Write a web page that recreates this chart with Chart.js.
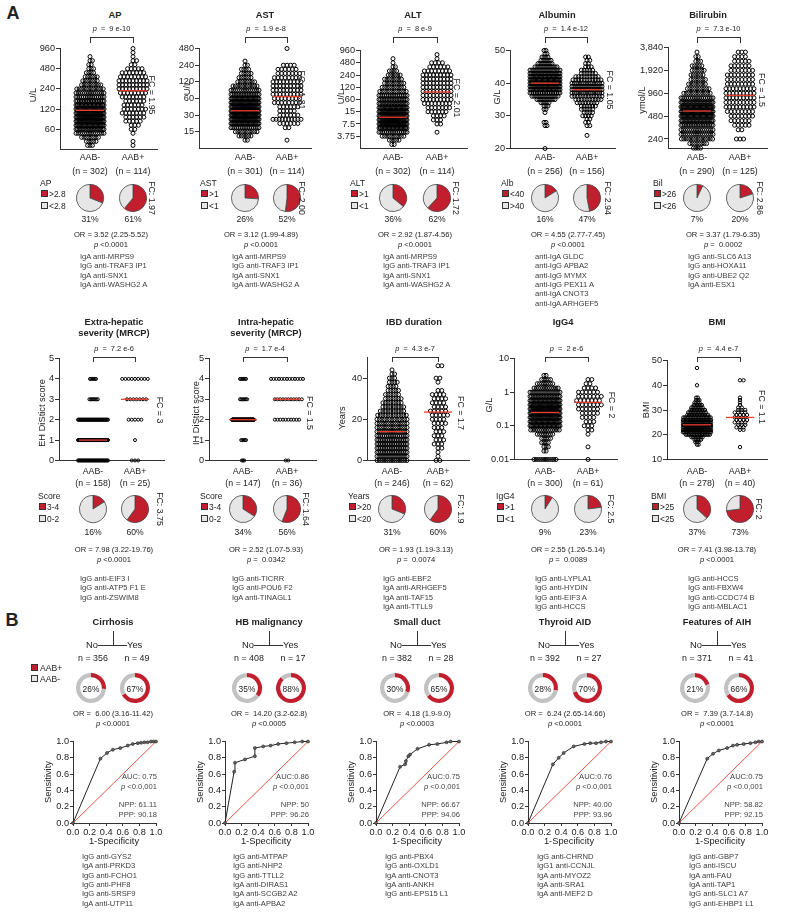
<!DOCTYPE html>
<html>
<head>
<meta charset="utf-8">
<script src="https://cdn.jsdelivr.net/npm/chart.js@4.4.0/dist/chart.umd.min.js"></script>
<style>
  body { margin: 0; background: #fff; }
  #fig { position: relative; width: 787px; height: 914px; overflow: hidden;
         font-family: "Liberation Sans", Arial, Helvetica, sans-serif; color: #222; }
  canvas { position: absolute; }
</style>
</head>
<body>
<div id="fig"></div>
<script>
// ---------- data: panel A, first row ----------
const apLevels = [34.5, 39.6, 45.5, 52.3, 60, 68.9, 79.2, 91, 104.5, 120, 137.8, 158.3, 181.9, 208.9, 240, 275.7, 316.7, 363.8, 417.9, 480, 551, 633, 727, 835, 960];
const apNeg = [3, 5, 8, 14, 20, 24, 28, 30, 28, 26, 22, 18, 16, 14, 12, 9, 7, 6, 4, 3, 2, 2, 1, 0, 0];
const apPos = [1, 1, 0, 1, 2, 3, 5, 6, 7, 7, 6, 6, 7, 8, 9, 9, 9, 8, 7, 5, 2, 2, 1, 1, 1];
const apMed = [115, 225];
const apTicks = [60, 120, 240, 480, 960];

const astLevels = [8.9, 10.6, 12.6, 15, 17.8, 21.2, 25.2, 30, 35.7, 42.4, 50.5, 60, 71.4, 84.9, 101, 120, 143, 170, 202, 240, 285, 339, 404, 480];
const astNeg = [0, 2, 6, 10, 16, 24, 30, 32, 32, 30, 26, 24, 18, 14, 11, 8, 6, 5, 4, 2, 1, 0, 0, 0];
const astPos = [0, 1, 0, 0, 2, 6, 10, 6, 5, 6, 8, 8, 9, 9, 9, 9, 8, 7, 6, 4, 0, 0, 0, 1];
const astMed = [36, 65];
const astTicks = [15, 30, 60, 120, 240, 480];

const altLevels = [4.7, 6.0, 7.5, 9.4, 11.9, 15, 18.9, 23.8, 30, 37.8, 47.6, 60, 75.6, 95, 120, 151, 190, 240, 302, 381, 480, 605, 762, 960];
const altNeg = [2, 5, 10, 16, 22, 28, 30, 30, 28, 24, 20, 18, 16, 12, 10, 9, 8, 6, 4, 2, 1, 1, 0, 0];
const altPos = [0, 0, 0, 1, 0, 2, 3, 4, 6, 7, 8, 9, 9, 9, 9, 9, 9, 9, 8, 6, 4, 1, 1, 0];
const altMed = [22, 92];
const altTicks = [7.5, 15, 30, 60, 120, 240, 480, 960];
const altTickLabels = ['3.75', '7.5', '15', '60', '120', '240', '480', '960'];

const albLevels = [20, 21, 22, 23, 24, 25, 26, 27, 28, 29, 30, 31, 32, 33, 34, 35, 36, 37, 38, 39, 40, 41, 42, 43, 44, 45, 46, 47, 48, 49, 50];
const albNeg = [1, 0, 0, 0, 0, 0, 0, 2, 2, 0, 0, 1, 2, 3, 5, 10, 14, 18, 24, 26, 26, 26, 24, 22, 16, 12, 8, 6, 4, 2, 2];
const albPos = [0, 0, 0, 0, 1, 0, 0, 2, 2, 2, 4, 4, 5, 6, 8, 10, 12, 14, 16, 16, 14, 11, 9, 6, 5, 3, 2, 2, 2, 0, 0];
const albMed = [40, 38];
const albTicks = [20, 30, 40, 50];

const bilLevels = [182, 209, 240, 276, 317, 364, 418, 480, 551, 633, 727, 835, 960, 1103, 1267, 1455, 1672, 1920, 2206, 2534, 2911, 3343];
const bilNeg = [4, 8, 14, 16, 16, 20, 24, 28, 30, 28, 24, 18, 12, 10, 8, 7, 6, 6, 5, 3, 2, 1];
const bilPos = [0, 0, 3, 0, 2, 5, 6, 7, 8, 9, 9, 9, 9, 9, 8, 8, 8, 7, 6, 5, 4, 3];
const bilMed = [560, 900];
const bilTicks = [240, 480, 960, 1920, 3840];
const bilTickLabels = ['240', '480', '960', '1,920', '3,840'];

// ---------- data: panel A, second row ----------
const ehLevels = [0, 1, 2, 3, 4];
const ehNeg = [36, 58, 50, 8, 6];
const ehPos = [3, 1, 5, 7, 9];
const ehMed = [1, 3];
const ehTicks = [0, 1, 2, 3, 4, 5];

const ihLevels = [0, 1, 2, 3, 4];
const ihNeg = [3, 5, 126, 7, 6];
const ihPos = [2, 0, 10, 11, 13];
const ihMed = [2, 3];
const ihTicks = [0, 1, 2, 3, 4, 5];

const ibdLevels = [0, 2, 4, 6, 8, 10, 12, 14, 16, 18, 20, 22, 24, 26, 28, 30, 32, 34, 36, 38, 40, 42, 44, 46];
const ibdNeg = [14, 16, 18, 18, 18, 18, 17, 15, 14, 14, 13, 12, 10, 9, 8, 7, 6, 5, 4, 4, 3, 2, 1, 0];
const ibdPos = [2, 1, 1, 2, 3, 3, 3, 3, 3, 4, 4, 5, 5, 4, 4, 4, 4, 2, 0, 1, 2, 0, 0, 2];
const ibdMed = [14, 23.5];
const ibdTicks = [0, 20, 40];

const igg4Levels = [0.01, 0.0133, 0.0178, 0.0237, 0.0316, 0.0422, 0.0562, 0.075, 0.1, 0.133, 0.178, 0.237, 0.316, 0.422, 0.562, 0.75, 1, 1.33, 1.78, 2.37, 3.16];
const igg4Neg = [11, 0, 2, 3, 4, 5, 8, 14, 24, 26, 28, 30, 30, 28, 24, 20, 16, 12, 8, 5, 2];
const igg4Pos = [1, 0, 0, 1, 0, 0, 1, 2, 3, 3, 4, 5, 6, 7, 7, 7, 6, 4, 2, 2, 0];
const igg4Med = [0.25, 0.5];
const igg4Ticks = [0.01, 0.1, 1, 10];

const bmiLevels = [15, 16, 17, 18, 19, 20, 21, 22, 23, 24, 25, 26, 27, 28, 29, 30, 31, 32, 33, 34, 35, 36, 37, 38, 39, 40, 41, 42, 43, 44, 45, 46, 47];
const bmiNeg = [0, 2, 3, 5, 8, 16, 24, 31, 32, 30, 26, 22, 18, 14, 12, 10, 8, 6, 4, 3, 2, 0, 0, 0, 0, 1, 0, 0, 0, 0, 0, 0, 1];
const bmiPos = [1, 0, 0, 0, 0, 0, 0, 2, 3, 3, 4, 4, 4, 4, 4, 3, 2, 1, 1, 1, 1, 0, 0, 0, 0, 0, 0, 2, 0, 0, 0, 0, 0];
const bmiMed = [24, 27];
const bmiTicks = [10, 20, 30, 40, 50];

// ---------- texts of panel A ----------
const titles1 = [['AP'], ['AST'], ['ALT'], ['Albumin'], ['Bilirubin']];
const titles2 = [['Extra-hepatic', 'severity (MRCP)'], ['Intra-hepatic', 'severity (MRCP)'], ['IBD duration'], ['IgG4'], ['BMI']];
const pVal1 = ['9 e-10', '1.9 e-8', '8 e-9', '1.4 e-12', '7.3 e-10'];
const pVal2 = ['7.2 e-6', '1.7 e-4', '4.3 e-7', '2 e-6', '4.4 e-7'];
const fc1 = ['1.95', '1.81', '2.01', '1.05', '1.5'];
const fc2 = ['3', '1.5', '1.7', '2', '1.1'];
const nNeg1 = [302, 301, 302, 256, 290];
const nPos1 = [114, 114, 114, 156, 125];
const nNeg2 = [158, 147, 246, 300, 278];
const nPos2 = [25, 36, 62, 61, 40];
const yTitle1 = ['U/L', 'U/L', 'U/L', 'G/L', 'ymol/L'];
const yTitle2 = ['EH DiStict score', 'IH DiStict score', 'Years', 'G/L', 'BMI'];
const legend1 = [['AP', '>2.8', '<2.8'], ['AST', '>1', '<1'], ['ALT', '>1', '<1'], ['Alb', '<40', '>40'], ['Bil', '>26', '<26']];
const legend2 = [['Score', '3-4', '0-2'], ['Score', '3-4', '0-2'], ['Years', '>20', '<20'], ['IgG4', '>1', '<1'], ['BMI', '>25', '<25']];
const pieNeg1 = [31, 26, 36, 16, 7];
const piePos1 = [61, 52, 62, 47, 20];
const pieNeg2 = [16, 34, 31, 9, 37];
const piePos2 = [60, 56, 60, 23, 73];
const pieFc1 = ['1.97', '2.00', '1.72', '2.94', '2.86'];
const pieFc2 = ['3.75', '1.64', '1.9', '2.5', '2'];
const or1 = ['3.52 (2.25-5.52)', '3.12 (1.99-4.89)', '2.92 (1.87-4.56)', '4.55 (2.77-7.45)', '3.37 (1.79-6.35)'];
const or2 = ['7.98 (3.22-19.76)', '2.52 (1.07-5.93)', '1.93 (1.19-3.13)', '2.55 (1.26-5.14)', '7.41 (3.98-13.78)'];
const orP1 = ['&lt;0.0001', '&lt;0.0001', '&lt;0.0001', '&lt;0.0001', '=&nbsp; 0.0002'];
const orP2 = ['&lt;0.0001', '=&nbsp; 0.0342', '=&nbsp; 0.0074', '=&nbsp; 0.0089', '&lt;0.0001'];
const antigens1 = [
  ['IgA anti-MRPS9', 'IgG anti-TRAF3 IP1', 'IgA anti-SNX1', 'IgA anti-WASHG2 A'],
  ['IgA anti-MRPS9', 'IgG anti-TRAF3 IP1', 'IgA anti-SNX1', 'IgA anti-WASHG2 A'],
  ['IgA anti-MRPS9', 'IgG anti-TRAF3 IP1', 'IgA anti-SNX1', 'IgA anti-WASHG2 A'],
  ['anti-IgA GLDC', 'anti-IgG APBA2', 'anti-IgG MYMX', 'anti-IgG PEX11 A', 'anti-IgA CNOT3', 'anti-IgA ARHGEF5'],
  ['IgG anti-SLC6 A13', 'IgG anti-HOXA11', 'IgG anti-UBE2 Q2', 'IgA anti-ESX1']
];
const antigens2 = [
  ['IgG anti-EIF3 I', 'IgG anti-ATP5 F1 E', 'IgG anti-ZSWIM8'],
  ['IgG anti-TICRR', 'IgG anti-POU6 F2', 'IgA anti-TINAGL1'],
  ['IgG anti-EBF2', 'IgA anti-ARHGEF5', 'IgA anti-TAF15', 'IgA anti-TTLL9'],
  ['IgG anti-LYPLA1', 'IgG anti-HYDIN', 'IgG anti-EIF3 A', 'IgG anti-HCCS'],
  ['IgG anti-HCCS', 'IgG anti-FBXW4', 'IgG anti-CCDC74 B', 'IgG anti-MBLAC1']
];

// ---------- data: panel B ----------
const bTitles = ['Cirrhosis', 'HB malignancy', 'Small duct', 'Thyroid AID', 'Features of AIH'];
const bNo = [356, 408, 382, 392, 371];
const bYes = [49, 17, 28, 27, 41];
const ringNo = [26, 35, 30, 28, 21];
const ringYes = [67, 88, 65, 70, 66];
const bOr = ['6.00 (3.16-11.42)', '14.20 (3.2-62.8)', '4.18 (1.9-9.0)', '6.24 (2.65-14.66)', '7.39 (3.7-14.8)'];
const bOrP = ['&lt;0.0001', '&lt;0.0005', '&lt;0.0003', '&lt;0.0001', '&lt;0.0001'];
const auc = ['AUC: 0.75', 'AUC:0.86', 'AUC:0.75', 'AUC:0.76', 'AUC:0.75'];
const npp = ['61.11', '50', '66.67', '40.00', '58.82'];
const ppp = ['90.18', '96.26', '94.06', '93.96', '92.15'];
const cirrFpr = [0, 0.33, 0.41, 0.48, 0.57, 0.66, 0.72, 0.78, 0.82, 0.86, 0.9, 0.94, 0.97, 1];
const cirrTpr = [0, 0.79, 0.86, 0.9, 0.92, 0.95, 0.97, 0.98, 0.985, 0.99, 0.99, 1, 1, 1];
const hbFpr = [0, 0.11, 0.12, 0.24, 0.36, 0.36, 0.46, 0.55, 0.64, 0.74, 0.84, 0.93, 1];
const hbTpr = [0, 0.63, 0.74, 0.78, 0.82, 0.92, 0.94, 0.95, 0.97, 0.98, 0.99, 1, 1];
const sdFpr = [0, 0.29, 0.35, 0.36, 0.39, 0.41, 0.5, 0.64, 0.74, 0.85, 0.9, 1];
const sdTpr = [0, 0.69, 0.72, 0.76, 0.82, 0.84, 0.91, 0.96, 0.97, 0.99, 1, 1];
const thyFpr = [0, 0.3, 0.37, 0.43, 0.55, 0.68, 0.75, 0.82, 0.88, 0.94, 1];
const thyTpr = [0, 0.72, 0.8, 0.86, 0.94, 0.97, 0.98, 0.98, 0.99, 1, 1];
const aihFpr = [0, 0.34, 0.41, 0.48, 0.58, 0.65, 0.7, 0.78, 0.86, 0.92, 0.96, 1];
const aihTpr = [0, 0.79, 0.85, 0.89, 0.92, 0.95, 0.96, 0.97, 0.98, 0.99, 1, 1];
const rocTicks = [0, 0.2, 0.4, 0.6, 0.8, 1];
const bAntigens = [
  ['IgG anti-GYS2', 'IgA anti-PRKD3', 'IgG anti-FCHO1', 'IgG anti-PHF8', 'IgG anti-SRSF9', 'IgA anti-UTP11'],
  ['IgG anti-MTPAP', 'IgG anti-NHP2', 'IgG anti-TTLL2', 'IgA anti-DIRAS1', 'IgA anti-SCGB2 A2', 'IgA anti-APBA2'],
  ['IgG anti-PBX4', 'IgG anti-OXLD1', 'IgA anti-CNOT3', 'IgA anti-ANKH', 'IgG anti-EPS15 L1'],
  ['IgG anti-CHRND', 'IgG1 anti-CCNJL', 'IgA anti-MYOZ2', 'IgA anti-SRA1', 'IgA anti-MEF2 D'],
  ['IgG anti-GBP7', 'IgG anti-ISCU', 'IgA anti-FAU', 'IgA anti-TAP1', 'IgG anti-SLC1 A7', 'IgG anti-EHBP1 L1']
];

// ---------- styles ----------
const FONT = '"Liberation Sans", Arial, Helvetica, sans-serif';
const RED = '#c21f2e', MEDC = '#ee3d2d', AX = '#333', PIEGREY = '#e6e6e6', RINGGREY = '#c2c2c2', DIAG = '#f0402f';
Chart.defaults.font.family = FONT;
Chart.defaults.animation = false;

const fig = document.getElementById('fig');

function el(tag, css) {
  const d = document.createElement(tag);
  if (css) d.style.cssText = css;
  fig.appendChild(d);
  return d;
}

function txt(x, y, s, o = {}) {
  const d = el('div', `position:absolute;left:${x}px;top:${y}px;white-space:nowrap;line-height:1;` +
    `font-size:${o.size || 7.6}px;color:${o.color || '#222'};` + (o.bold ? 'font-weight:bold;' : ''));
  const ax = o.align === 'left' ? '0' : o.align === 'right' ? '-100%' : '-50%';
  d.style.transform = `translate(${ax},-50%)` + (o.rot ? ` rotate(${o.rot}deg)` : '');
  if (o.html) d.innerHTML = s; else d.textContent = s;
}

function hline(x1, x2, y) { el('div', `position:absolute;left:${x1}px;top:${y}px;width:${x2 - x1}px;height:1px;background:${AX}`); }
function vline(x, y1, y2) { el('div', `position:absolute;left:${x}px;top:${y1}px;width:1px;height:${y2 - y1}px;background:${AX}`); }
function bracket(x1, x2, y1, y2) {
  el('div', `position:absolute;left:${x1}px;top:${y1}px;width:${x2 - x1}px;height:${y2 - y1}px;` +
    `border:1px solid ${AX};border-bottom:none;box-sizing:border-box`);
}
function box(x, y, color) {
  el('div', `position:absolute;left:${x}px;top:${y}px;width:7px;height:7px;background:${color};` +
    `border:0.8px solid ${AX};box-sizing:border-box`);
}

// rows of points around a group centre, squeezed when a row is too long
function swarm(levels, counts, centre, gap, halfW, unitPx) {
  const pts = [];
  levels.forEach((v, i) => {
    const n = counts[i];
    if (!n) return;
    const step = n > 1 ? Math.min(gap, 2 * halfW / (n - 1)) : 0;
    const shift = (i % 2 && n * step < 2 * halfW) ? step / 2 : 0;
    for (let k = 0; k < n; k++) {
      pts.push({ x: centre + ((k - (n - 1) / 2) * step + shift) / unitPx, y: v });
    }
  });
  return pts;
}

function dotPlot(p) {
  const padL = 40, padT = 6, padR = 6, padB = 6;
  const unit = p.g2 - p.g1;
  const c = el('canvas');
  c.width = (p.right - p.ax) + padL + padR;
  c.height = (p.bottom - p.top) + padT + padB;
  c.style.left = (p.ax - padL) + 'px';
  c.style.top = (p.top - padT) + 'px';
  const labels = p.labels || p.ticks.map(String);
  const dots = { pointRadius: p.r, pointBorderWidth: 1, pointBorderColor: '#000', pointBackgroundColor: 'rgba(255,255,255,0)', clip: false };
  const hw = 14 / unit;
  const medLine = { showLine: true, borderColor: MEDC, borderWidth: 1.3, pointRadius: 0, clip: false };
  new Chart(c, {
    type: 'scatter',
    data: {
      datasets: [
        { ...medLine, data: [{ x: 1 - hw, y: p.med[0] }, { x: 1 + hw, y: p.med[0] }] },
        { ...medLine, data: [{ x: 2 - hw, y: p.med[1] }, { x: 2 + hw, y: p.med[1] }] },
        { ...dots, data: swarm(p.levels, p.neg, 1, p.gapN, p.hwN, unit) },
        { ...dots, data: swarm(p.levels, p.pos, 2, p.gapP, p.hwP, unit) }
      ]
    },
    options: {
      responsive: false, events: [],
      layout: { padding: { top: padT, right: padR, left: 0, bottom: 0 } },
      plugins: { legend: { display: false }, tooltip: { enabled: false } },
      scales: {
        x: {
          type: 'linear', min: 1 - (p.g1 - p.ax) / unit, max: 2 + (p.right - p.g2) / unit,
          ticks: { display: false }, grid: { display: false },
          border: { display: true, color: AX, width: 1 },
          afterFit: s => { s.height = padB; }
        },
        y: {
          type: p.type, min: p.min, max: p.max,
          afterBuildTicks: s => { s.ticks = p.ticks.map(v => ({ value: v })); },
          ticks: { font: { size: 9.2 }, color: '#222', padding: 1, autoSkip: false, callback: (v, i) => labels[i] },
          grid: { display: true, drawOnChartArea: false, drawTicks: true, tickLength: 4, color: AX, lineWidth: 1 },
          border: { display: true, color: AX, width: 1 },
          afterFit: s => { s.width = padL; }
        }
      }
    }
  });
}

function pie(cx, cy, r, pct, ring) {
  const c = el('canvas');
  const s = 2 * r + 4;
  c.width = s; c.height = s;
  c.style.left = (cx - s / 2) + 'px';
  c.style.top = (cy - s / 2) + 'px';
  new Chart(c, {
    type: ring ? 'doughnut' : 'pie',
    data: { datasets: [{
      data: [pct, 100 - pct],
      backgroundColor: [RED, ring ? RINGGREY : PIEGREY],
      borderColor: '#444', borderWidth: ring ? 0 : 0.8
    }] },
    options: {
      responsive: false, events: [], cutout: ring ? '72%' : 0,
      layout: { padding: 2 },
      plugins: { legend: { display: false }, tooltip: { enabled: false } }
    }
  });
}

function rocPlot(x0, fpr, tpr) {
  const padL = 28, padT = 6, padR = 8, padB = 18, W = 83, H = 82, top = 741;
  const c = el('canvas');
  c.width = W + padL + padR;
  c.height = H + padT + padB;
  c.style.left = (x0 - padL) + 'px';
  c.style.top = (top - padT) + 'px';
  const axis = (fit) => ({
    type: 'linear', min: 0, max: 1,
    afterBuildTicks: s => { s.ticks = rocTicks.map(v => ({ value: v })); },
    ticks: { font: { size: 9.2 }, color: '#222', padding: 1, maxRotation: 0, autoSkip: false, callback: v => v.toFixed(1) },
    grid: { display: true, drawOnChartArea: false, drawTicks: true, tickLength: 3, color: AX, lineWidth: 1 },
    border: { display: true, color: AX, width: 1 },
    afterFit: fit
  });
  new Chart(c, {
    type: 'scatter',
    data: {
      datasets: [
        { data: fpr.map((v, i) => ({ x: v, y: tpr[i] })), showLine: true, borderColor: '#222', borderWidth: 1,
          pointRadius: 1.5, pointBackgroundColor: '#666', pointBorderColor: '#222', pointBorderWidth: 0.6, clip: false },
        { data: [{ x: rocTicks[0], y: rocTicks[0] }, { x: rocTicks[5], y: rocTicks[5] }], showLine: true,
          borderColor: DIAG, borderWidth: 0.9, pointRadius: 0 }
      ]
    },
    options: {
      responsive: false, events: [],
      layout: { padding: { top: padT, right: padR, left: 0, bottom: 0 } },
      plugins: { legend: { display: false }, tooltip: { enabled: false } },
      scales: { x: axis(s => { s.height = padB; }), y: axis(s => { s.width = padL; }) }
    }
  });
}

// ---------- layout of panel A ----------
const row1 = [
  { ax: 60, right: 157, top: 48, bottom: 150, g1: 90, g2: 133, type: 'logarithmic', min: 30, max: 960, ticks: apTicks,
    levels: apLevels, neg: apNeg, pos: apPos, med: apMed, r: 2, gapN: 2.4, gapP: 3.6, hwN: 14, hwP: 14 },
  { ax: 199, right: 311, top: 48, bottom: 149, g1: 245, g2: 287, type: 'logarithmic', min: 7.5, max: 480, ticks: astTicks,
    levels: astLevels, neg: astNeg, pos: astPos, med: astMed, r: 2, gapN: 2.4, gapP: 3.6, hwN: 14, hwP: 14 },
  { ax: 360, right: 467, top: 50, bottom: 149, g1: 393, g2: 437, type: 'logarithmic', min: 3.75, max: 960, ticks: altTicks, labels: altTickLabels,
    levels: altLevels, neg: altNeg, pos: altPos, med: altMed, r: 2, gapN: 2.4, gapP: 3.6, hwN: 14, hwP: 14 },
  { ax: 510, right: 615, top: 50, bottom: 149, g1: 545, g2: 587, type: 'linear', min: 20, max: 50, ticks: albTicks,
    levels: albLevels, neg: albNeg, pos: albPos, med: albMed, r: 2, gapN: 2, gapP: 2.8, hwN: 15, hwP: 15 },
  { ax: 668, right: 767, top: 47, bottom: 149, g1: 697, g2: 740, type: 'logarithmic', min: 180, max: 3840, ticks: bilTicks, labels: bilTickLabels,
    levels: bilLevels, neg: bilNeg, pos: bilPos, med: bilMed, r: 2, gapN: 2.4, gapP: 3.6, hwN: 16, hwP: 14 }
];
const row2 = [
  { ax: 59, right: 164, top: 358, bottom: 461, g1: 93, g2: 135, type: 'linear', min: 0, max: 5, ticks: ehTicks,
    levels: ehLevels, neg: ehNeg, pos: ehPos, med: ehMed, r: 1.5, gapN: 1.2, gapP: 3.2, hwN: 15, hwP: 15 },
  { ax: 209, right: 316, top: 358, bottom: 461, g1: 243, g2: 287, type: 'linear', min: 0, max: 5, ticks: ihTicks,
    levels: ihLevels, neg: ihNeg, pos: ihPos, med: ihMed, r: 1.5, gapN: 1.2, gapP: 2.7, hwN: 11, hwP: 16 },
  { ax: 367, right: 469, top: 357, bottom: 461, g1: 392, g2: 438, type: 'linear', min: 0, max: 50, ticks: ibdTicks,
    levels: ibdLevels, neg: ibdNeg, pos: ibdPos, med: ibdMed, r: 2, gapN: 2.6, gapP: 3.8, hwN: 15, hwP: 14 },
  { ax: 514, right: 617, top: 358, bottom: 460, g1: 545, g2: 588, type: 'logarithmic', min: 0.01, max: 10, ticks: igg4Ticks,
    levels: igg4Levels, neg: igg4Neg, pos: igg4Pos, med: igg4Med, r: 2, gapN: 2.2, gapP: 3.8, hwN: 15, hwP: 14 },
  { ax: 667, right: 767, top: 360, bottom: 460, g1: 697, g2: 740, type: 'linear', min: 10, max: 50, ticks: bmiTicks,
    levels: bmiLevels, neg: bmiNeg, pos: bmiPos, med: bmiMed, r: 1.7, gapN: 1.6, gapP: 3.5, hwN: 14, hwP: 13 }
];

const rowText1 = {
  titles: titles1, titleX: [115, 265, 413, 557, 708], titleY: 16,
  pv: pVal1, pY: 29, brY: 37, brY2: 43,
  fc: fc1, fcX: [152, 302, 457, 610, 762], fcY: [95, 90, 98, 90, 90],
  yT: yTitle1, yTX: [34, 188, 342, 498, 643], yTY: [95, 88, 97, 97, 100],
  nNeg: nNeg1, nPos: nPos1, grpY: 157, nY: 171,
  leg: legend1, legX: [40, 200, 350, 501, 653], legY: 183,
  pieN: pieNeg1, pieP: piePos1, pieY: 198, pctY: 219, pieFc: pieFc1, pieFcX: [152, 302, 456, 608, 760],
  or: or1, orP: orP1, orX: [111, 261, 415, 568, 723], orY: 235,
  ag: antigens1, agY: 257
};
const rowText2 = {
  titles: titles2, titleX: [114, 266, 414, 563, 717], titleY: 323,
  pv: pVal2, pY: 349, brY: 357, brY2: 362,
  fc: fc2, fcX: [160, 310, 461, 612, 762], fcY: [410, 413, 413, 405, 407],
  yT: yTitle2, yTX: [43, 197, 343, 490, 647], yTY: [413, 413, 418, 405, 410],
  nNeg: nNeg2, nPos: nPos2, grpY: 471, nY: 483,
  leg: legend2, legX: [38, 200, 348, 496, 651], legY: 496,
  pieN: pieNeg2, pieP: piePos2, pieY: 509, pctY: 532, pieFc: pieFc2, pieFcX: [160, 306, 461, 611, 759],
  or: or2, orP: orP2, orX: [114, 266, 416, 568, 717], orY: 550,
  ag: antigens2, agY: 579
};
const agX = [80, 232, 383, 535, 688];

function drawRow(panels, t) {
  panels.forEach((p, i) => {
    dotPlot(p);
    t.titles[i].forEach((s, k) => txt(t.titleX[i], t.titleY + k * 11, s, { size: 9.3, bold: true }));
    bracket(p.g1, p.g2 + 1, t.brY, t.brY2);
    txt((p.g1 + p.g2) / 2, t.pY, '<i>p</i>&nbsp; = &nbsp;' + t.pv[i], { html: true, size: 7.4 });
    txt(t.fcX[i], t.fcY[i], 'FC = ' + t.fc[i], { size: 8.8, rot: 90 });
    txt(t.yTX[i], t.yTY[i], t.yT[i], { size: 9.3, rot: -90 });
    txt(p.g1, t.grpY, 'AAB-', { size: 8.8 });
    txt(p.g2, t.grpY, 'AAB+', { size: 8.8 });
    txt(p.g1, t.nY, '(n = ' + t.nNeg[i] + ')', { size: 8.8 });
    txt(p.g2, t.nY, '(n = ' + t.nPos[i] + ')', { size: 8.8 });
    // pie legend
    const lx = t.legX[i], ly = t.legY;
    txt(lx, ly, t.leg[i][0], { size: 8.6, align: 'left' });
    box(lx + 1, ly + 7, RED);
    txt(lx + 9, ly + 10.5, t.leg[i][1], { size: 8.4, align: 'left' });
    box(lx + 1, ly + 19, PIEGREY);
    txt(lx + 9, ly + 22.5, t.leg[i][2], { size: 8.4, align: 'left' });
    pie(p.g1, t.pieY, 14, t.pieN[i], false);
    pie(p.g2, t.pieY, 14, t.pieP[i], false);
    txt(p.g1, t.pctY, t.pieN[i] + '%', { size: 8.6 });
    txt(p.g2, t.pctY, t.pieP[i] + '%', { size: 8.6 });
    txt(t.pieFcX[i], t.pieY, 'FC: ' + t.pieFc[i], { size: 8.8, rot: 90 });
    txt(t.orX[i], t.orY, 'OR = ' + t.or[i], { size: 7.6 });
    txt(t.orX[i], t.orY + 10, '<i>p</i> ' + t.orP[i], { html: true, size: 7.6 });
    t.ag[i].forEach((s, k) => txt(agX[i], t.agY + k * 9.3, s, { size: 7.6, align: 'left', color: '#3a3a3a' }));
  });
}

txt(13, 13, 'A', { size: 18, bold: true });
drawRow(row1, rowText1);
drawRow(row2, rowText2);

// ---------- panel B ----------
txt(12, 620, 'B', { size: 18, bold: true });
box(31, 664, RED);
txt(40, 667.5, 'AAB+', { size: 8.6, align: 'left' });
box(31, 675, PIEGREY);
txt(40, 678.5, 'AAB-', { size: 8.6, align: 'left' });

const bCx = [113, 269, 417, 565, 717];
const rocX = [73, 225, 376, 528, 679];
const bAgX = [82, 233, 385, 537, 689];
const rocFpr = [cirrFpr, hbFpr, sdFpr, thyFpr, aihFpr];
const rocTpr = [cirrTpr, hbTpr, sdTpr, thyTpr, aihTpr];

bCx.forEach((cx, i) => {
  txt(cx, 623, bTitles[i], { size: 9.3, bold: true });
  vline(cx, 631, 646);
  hline(cx - 15, cx + 14, 645);
  txt(cx - 15, 645, 'No', { size: 9.4, align: 'right' });
  txt(cx + 14, 645, 'Yes', { size: 9.4, align: 'left' });
  txt(cx - 20, 658, 'n = ' + bNo[i], { size: 8.9 });
  txt(cx + 24, 658, 'n = ' + bYes[i], { size: 8.9 });
  pie(cx - 22, 688, 15, ringNo[i], true);
  pie(cx + 22, 688, 15, ringYes[i], true);
  txt(cx - 22, 688.5, ringNo[i] + '%', { size: 8.4 });
  txt(cx + 22, 688.5, ringYes[i] + '%', { size: 8.4 });
  txt(cx, 714, 'OR = &nbsp;' + bOr[i], { html: true, size: 7.6 });
  txt(cx, 723.5, '<i>p</i> ' + bOrP[i], { html: true, size: 7.6 });

  const x0 = rocX[i];
  rocPlot(x0, rocFpr[i], rocTpr[i]);
  txt(x0 - 24, 782, 'Sensitivity', { size: 9.3, rot: -90 });
  txt(x0 + 41, 842, '1-Specificity', { size: 9.3 });
  txt(x0 + 84, 777, auc[i], { size: 7.6, align: 'right', color: '#444' });
  txt(x0 + 84, 786.5, '<i>p</i> &lt;0.0,001', { html: true, size: 7.6, align: 'right', color: '#444' });
  txt(x0 + 84, 805, 'NPP: ' + npp[i], { size: 7.6, align: 'right', color: '#444' });
  txt(x0 + 84, 814.5, 'PPP: ' + ppp[i], { size: 7.6, align: 'right', color: '#444' });
  bAntigens[i].forEach((s, k) => txt(bAgX[i], 857 + k * 9.3, s, { size: 7.6, align: 'left', color: '#3a3a3a' }));
});
</script>
</body>
</html>
